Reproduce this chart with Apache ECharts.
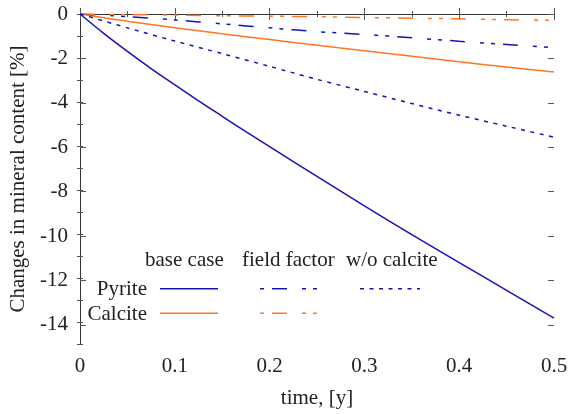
<!DOCTYPE html>
<html><head><meta charset="utf-8">
<script src="https://cdn.jsdelivr.net/npm/echarts@6/dist/echarts.min.js"></script>
<style>html,body{margin:0;padding:0;background:#fff}#c{width:572px;height:414px}</style>
</head><body><div id="c"></div>
<script>
const time = [0, 0.05, 0.1, 0.15, 0.2, 0.25, 0.3, 0.35, 0.4, 0.45, 0.5];
const timeFine = [0, 0.025, 0.05, 0.075, 0.1, 0.125, 0.15, 0.175, 0.2, 0.25, 0.3, 0.35, 0.4, 0.45, 0.5];
const pyriteBase = [0, -0.88, -1.7, -2.48, -3.22, -3.95, -4.65, -5.35, -6.03, -7.38, -8.72, -10.03, -11.3, -12.56, -13.82];
const calciteBase = [0, -0.33, -0.62, -0.9, -1.16, -1.42, -1.67, -1.92, -2.17, -2.41, -2.64];
const pyriteField = [0, -0.12, -0.27, -0.45, -0.63, -0.8, -0.93, -1.08, -1.24, -1.39, -1.53];
const calciteField = [0, -0.03, -0.05, -0.08, -0.1, -0.12, -0.16, -0.19, -0.22, -0.26, -0.29];
const pyriteNoCalcite = [0, -0.63, -1.23, -1.8, -2.38, -2.97, -3.52, -4.07, -4.6, -5.1, -5.6];
const xTicks = [0, 0.1, 0.2, 0.3, 0.4, 0.5];
const yTicks = [0, -2, -4, -6, -8, -10, -12, -14];
const headers = ['base case', 'field factor', 'w/o calcite'];
const rows = ['Pyrite', 'Calcite'];

const BLUE = '#1414b4', ORANGE = '#ff7722';
const FONT = 'Liberation Serif';
const FS = 21;
const DASHDOT = [15, 15, 4, 7, 4, 8];
const DOT = [4, 5.5];
const pairs = (xs, ys) => xs.map((x, i) => [x, ys[i]]);

const chart = echarts.init(document.getElementById('c'), null, {renderer: 'canvas'});
const axisLine = {show: true, lineStyle: {color: '#333', width: 1}};
const tickMajor = {show: true, inside: true, length: 6, lineStyle: {color: '#555'}};
const tickMinor = {show: true, inside: true, length: 3, lineStyle: {color: '#555'}};
const labelStyle = {fontFamily: FONT, fontSize: FS, color: '#222'};
const tfont = FS + 'px "Liberation Serif"';
function txt(s, x, y, align) {
  return {type: 'text', x: x, y: y,
          style: {text: s, font: tfont, fill: '#222', align: align || 'left', verticalAlign: 'middle'}};
}

const option = {
  animation: false,
  grid: [
    {left: 80, right: 18, top: 14, bottom: 67},
    {left: 80, right: 18, top: 14, bottom: 89.2}
  ],
  xAxis: [
    {gridIndex: 0, type: 'value', min: 0, max: 0.5, interval: 0.1, position: 'bottom',
     axisLine, axisTick: tickMajor, minorTick: Object.assign({splitNumber: 2}, tickMinor),
     splitLine: {show: false}, minorSplitLine: {show: false},
     axisLabel: Object.assign({margin: 12, formatter: v => xTicks.includes(Math.round(v*10)/10) ? String(Math.round(v*10)/10) : ''}, labelStyle),
     name: 'time, [y]', nameLocation: 'middle', nameGap: 44, nameTextStyle: labelStyle},
    {gridIndex: 0, type: 'value', min: 0, max: 0.5, interval: 0.1, position: 'top',
     axisLine, axisTick: tickMajor, minorTick: Object.assign({splitNumber: 2}, tickMinor),
     splitLine: {show: false}, axisLabel: {show: false}},
    {gridIndex: 1, type: 'value', min: 0, max: 0.5, show: false}
  ],
  yAxis: [
    {gridIndex: 0, type: 'value', min: -15, max: 0, interval: 1, position: 'left',
     axisLine, axisTick: tickMinor, splitLine: {show: false}, axisLabel: {show: false},
     name: 'Changes in mineral content [%]', nameLocation: 'middle', nameGap: 51, nameRotate: 90,
     nameTextStyle: labelStyle},
    {gridIndex: 0, type: 'value', min: -15, max: 0, interval: 1, position: 'right',
     axisLine, axisTick: tickMinor, splitLine: {show: false}, axisLabel: {show: false}},
    {gridIndex: 1, type: 'value', min: -14, max: 0, interval: 2, position: 'left',
     axisLine: {show: false}, axisTick: tickMajor, splitLine: {show: false},
     axisLabel: Object.assign({margin: 12, formatter: v => yTicks.includes(v) ? String(v) : ''}, labelStyle)},
    {gridIndex: 1, type: 'value', min: -14, max: 0, interval: 2, position: 'right',
     axisLine: {show: false}, axisTick: tickMajor, splitLine: {show: false}, axisLabel: {show: false}}
  ],
  series: [
    {name: 'Pyrite base', type: 'line', xAxisIndex: 0, yAxisIndex: 0, showSymbol: false, smooth: 0.3,
     data: pairs(timeFine, pyriteBase), lineStyle: {color: BLUE, width: 1.5}},
    {name: 'Calcite base', type: 'line', xAxisIndex: 0, yAxisIndex: 0, showSymbol: false, smooth: 0.3,
     data: pairs(time, calciteBase), lineStyle: {color: ORANGE, width: 1.5}},
    {name: 'Pyrite field', type: 'line', xAxisIndex: 0, yAxisIndex: 0, showSymbol: false, smooth: 0.3,
     data: pairs(time, pyriteField), lineStyle: {color: BLUE, width: 1.5, type: DASHDOT}},
    {name: 'Calcite field', type: 'line', xAxisIndex: 0, yAxisIndex: 0, showSymbol: false, smooth: 0.3,
     data: pairs(time, calciteField), lineStyle: {color: ORANGE, width: 1.5, type: DASHDOT}},
    {name: 'Pyrite w/o calcite', type: 'line', xAxisIndex: 0, yAxisIndex: 0, showSymbol: false, smooth: 0.3,
     data: pairs(time, pyriteNoCalcite), lineStyle: {color: BLUE, width: 1.5, type: DOT}}
  ],
  graphic: [
    txt(headers[0], 145, 260),
    txt(headers[1], 242, 260),
    txt(headers[2], 346, 260),
    txt(rows[0], 147, 289, 'right'),
    txt(rows[1], 147, 314.5, 'right'),
    {type: 'line', shape: {x1: 160, y1: 288.7, x2: 218, y2: 288.7}, style: {stroke: BLUE, lineWidth: 1.5}},
    {type: 'line', shape: {x1: 160, y1: 313.3, x2: 218, y2: 313.3}, style: {stroke: ORANGE, lineWidth: 1.5}},
    {type: 'line', shape: {x1: 260, y1: 288.7, x2: 318, y2: 288.7}, style: {stroke: BLUE, lineWidth: 1.5, lineDash: DASHDOT, lineDashOffset: 41}},
    {type: 'line', shape: {x1: 260, y1: 313.3, x2: 318, y2: 313.3}, style: {stroke: ORANGE, lineWidth: 1.5, lineDash: DASHDOT, lineDashOffset: 41}},
    {type: 'line', shape: {x1: 360, y1: 288.7, x2: 420, y2: 288.7}, style: {stroke: BLUE, lineWidth: 1.5, lineDash: DOT}}
  ]
};
chart.setOption(option);
</script>
</body></html>
